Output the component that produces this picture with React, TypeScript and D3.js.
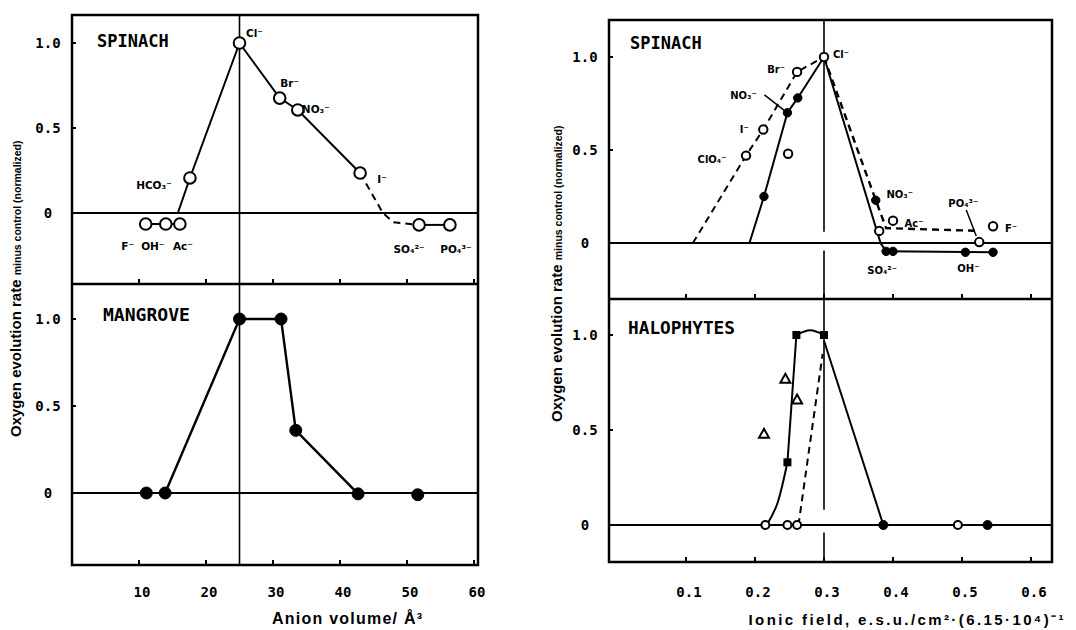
import React from 'react';
import * as d3 from 'd3';

// ---------- axis ticks ----------
const volTicks = [10, 20, 30, 40, 50, 60];
const fieldTicks = [0.1, 0.2, 0.3, 0.4, 0.5, 0.6];
const yTickVals = [0, 0.5, 1.0];
const yTickText = ["0", "0.5", "1.0"];

// ---------- left top: SPINACH vs anion volume (open circles) ----------
const spVolIon = ["F⁻", "OH⁻", "Ac⁻", "HCO₃⁻", "Cl⁻", "Br⁻", "NO₃⁻", "I⁻", "SO₄²⁻", "PO₄³⁻"];
const spVolX = [11.0, 14.0, 16.1, 17.6, 25.0, 31.0, 33.7, 43.0, 51.8, 56.4];
const spVolY = [-0.065, -0.065, -0.065, 0.206, 1.0, 0.676, 0.606, 0.235, -0.07, -0.07];
const spVolSolidA: [number, number][] = [[11.0, -0.065], [16.1, -0.065]];
const spVolSolidB: [number, number][] = [[15.8, 0], [17.6, 0.206], [25.0, 1.0], [31.0, 0.676], [33.7, 0.606], [43.0, 0.235]];
const spVolDashed: [number, number][] = [[43.0, 0.235], [46.4, 0], [48.0, -0.055], [51.8, -0.07]];
const spVolSolidC: [number, number][] = [[51.8, -0.07], [56.4, -0.07]];
// label offsets (px) for the ions above
const spVolLabDx = [-18, -13, 3, -36, 15, 10, 18, 22, -10, 6];
const spVolLabDy = [23, 23, 23, 8, -9, -14, 0, 7, 25, 25];

// ---------- left bottom: MANGROVE (filled circles) ----------
const mgX = [11.1, 13.9, 25.0, 31.2, 33.4, 42.7, 51.6];
const mgY = [0, 0, 1.0, 1.0, 0.36, -0.005, -0.01];
const mgLine: [number, number][] = [[13.9, 0], [25.0, 1.0], [31.2, 1.0], [33.4, 0.36], [42.7, -0.005]];

// ---------- right top: SPINACH vs ionic field ----------
const spFOpenIon = ["ClO₄⁻", "I⁻", "Br⁻", "Cl⁻", "", "", "Ac⁻", "PO₄³⁻", "F⁻"];
const spFOpenX = [0.187, 0.212, 0.261, 0.30, 0.248, 0.38, 0.40, 0.525, 0.545];
const spFOpenY = [0.47, 0.61, 0.92, 1.0, 0.48, 0.065, 0.12, 0.005, 0.09];
const spFOpenLabDx = [-34, -19, -21, 17, 0, 0, 21, -16, 18];
const spFOpenLabDy = [4, 0, -2, -2, 0, 0, 3, -38, 3];
const spFFilledIon = ["", "NO₃⁻", "", "NO₃⁻", "SO₄²⁻", "", "OH⁻", ""];
const spFFilledX = [0.213, 0.247, 0.262, 0.375, 0.39, 0.40, 0.505, 0.545];
const spFFilledY = [0.25, 0.70, 0.78, 0.23, -0.045, -0.045, -0.05, -0.05];
const spFFilledLabDx = [0, -44, 0, 24, -4, 0, 3, 0];
const spFFilledLabDy = [0, -17, 0, -5, 20, 0, 17, 0];
const spFSolidL: [number, number][] = [[0.192, 0], [0.213, 0.25], [0.247, 0.70], [0.262, 0.78], [0.30, 1.0]];
const spFDashedL: [number, number][] = [[0.11, 0], [0.187, 0.47], [0.212, 0.61], [0.261, 0.92], [0.30, 1.0]];
const spFSolidR: [number, number][] = [[0.30, 1.0], [0.382, 0], [0.39, -0.045]];
const spFDashedR: [number, number][] = [[0.30, 1.0], [0.375, 0.23], [0.39, 0.08], [0.525, 0.065]];
const spFSolidBottom: [number, number][] = [[0.39, -0.045], [0.545, -0.05]];

// ---------- right bottom: HALOPHYTES ----------
const haSquareX = [0.247, 0.26, 0.30];
const haSquareY = [0.33, 1.0, 1.0];
const haOpenX = [0.215, 0.247, 0.261, 0.494];
const haOpenY = [0, 0, 0, 0];
const haFilledX = [0.386, 0.537];
const haFilledY = [0, 0];
const haTriX = [0.244, 0.261, 0.213];
const haTriY = [0.77, 0.66, 0.48];
const haCurveLow: [number, number][] = [[0.217, 0], [0.233, 0.12], [0.247, 0.33]];
const haRise: [number, number][] = [[0.247, 0.33], [0.26, 1.0]];
const haArch: [number, number][] = [[0.26, 1.0], [0.28, 1.025], [0.30, 1.0]];
const haFall: [number, number][] = [[0.30, 0.97], [0.386, 0]];
const haDashed: [number, number][] = [[0.263, 0], [0.298, 0.9]];

const mono = "'DejaVu Sans Mono', monospace";
const sans = "'Liberation Sans', Arial, sans-serif";
const labFont = "'DejaVu Sans', sans-serif";

export default function App() {
  // scales (pixel frames)
  const xVol = d3.scaleLinear().domain([0, 60]).range([72, 474]);
  const xField = d3.scaleLinear().domain([0, 0.6]).range([617, 1031]);
  const yLT = d3.scaleLinear().domain([0, 1]).range([213, 43]);
  const yLB = d3.scaleLinear().domain([0, 1]).range([493, 319]);
  const yRT = d3.scaleLinear().domain([0, 1]).range([243, 57]);
  const yRB = d3.scaleLinear().domain([0, 1]).range([525, 335]);

  const lineOf = (xs: d3.ScaleLinear<number, number>, ys: d3.ScaleLinear<number, number>, curve?: d3.CurveFactory) => {
    const l = d3.line<[number, number]>().x(d => xs(d[0])).y(d => ys(d[1]));
    if (curve) l.curve(curve);
    return l;
  };

  const lLT = lineOf(xVol, yLT);
  const lLB = lineOf(xVol, yLB);
  const lRT = lineOf(xField, yRT);
  const lRB = lineOf(xField, yRB);
  const lRBc = lineOf(xField, yRB, d3.curveNatural);

  const dash = "7,5";
  const lw = 2;

  // frame geometry
  const L = { x0: 72, x1: 478, top: 15, mid: 284, bot: 565 };
  const R = { x0: 609, x1: 1052, top: 20, mid: 299, bot: 562 };

  const frame = (f: typeof L) => (
    <g fill="none" stroke="#000" strokeWidth={2.5}>
      <rect x={f.x0} y={f.top} width={f.x1 - f.x0} height={f.bot - f.top} />
      <line x1={f.x0} x2={f.x1} y1={f.mid} y2={f.mid} />
    </g>
  );

  const xTickMarks = (xs: d3.ScaleLinear<number, number>, ticks: number[], ys: number[]) => (
    <g stroke="#000" strokeWidth={2}>
      {ys.map((yy, j) => ticks.map((t, i) => (
        <line key={j + '-' + i} x1={xs(t)} x2={xs(t)} y1={yy} y2={yy - 5} />
      )))}
    </g>
  );

  const yAxis = (ys: d3.ScaleLinear<number, number>, x0: number, labelX: number) => (
    <g>
      {yTickVals.map((v, i) => (
        <g key={i}>
          <line x1={x0} x2={x0 + 4} y1={ys(v)} y2={ys(v)} stroke="#000" strokeWidth={2} />
          <text x={labelX} y={ys(v) + 5} textAnchor="middle" fontFamily={mono} fontWeight="bold" fontSize={14}>{yTickText[i]}</text>
        </g>
      ))}
    </g>
  );

  const openCircles = (xs: number[], ysv: number[], sx: any, sy: any, r: number) =>
    xs.map((v, i) => (
      <circle key={'o' + i} cx={sx(v)} cy={sy(ysv[i])} r={r} fill="#fff" stroke="#000" strokeWidth={2} />
    ));
  const filledCircles = (xs: number[], ysv: number[], sx: any, sy: any, r: number) =>
    xs.map((v, i) => (
      <circle key={'f' + i} cx={sx(v)} cy={sy(ysv[i])} r={r} fill="#000" stroke="#000" strokeWidth={1} />
    ));
  const labels = (ions: string[], xs: number[], ysv: number[], dx: number[], dy: number[], sx: any, sy: any, fs: number) =>
    ions.map((t, i) => t ? (
      <text key={'t' + i} x={sx(xs[i]) + dx[i]} y={sy(ysv[i]) + dy[i] + 3} textAnchor="middle" fontFamily={labFont} fontWeight="bold" fontSize={fs}>{t}</text>
    ) : null);

  return (
    <svg width={1076} height={630} style={{ position: 'absolute', left: 0, top: 0, background: '#fff' }}>
      <rect width={1076} height={630} fill="#fff" />

      {/* ================= LEFT FIGURE ================= */}
      {frame(L)}
      {xTickMarks(xVol, volTicks, [L.mid, L.bot])}
      {yAxis(yLT, L.x0, 48)}
      {yAxis(yLB, L.x0, 48)}
      {/* zero lines and vertical reference */}
      <line x1={L.x0} x2={L.x1} y1={yLT(0)} y2={yLT(0)} stroke="#000" strokeWidth={lw} />
      <line x1={L.x0} x2={L.x1} y1={yLB(0)} y2={yLB(0.0)} stroke="#000" strokeWidth={lw} />
      <line x1={xVol(25)} x2={xVol(25)} y1={L.top} y2={L.bot} stroke="#000" strokeWidth={1.6} />

      <g fill="none" stroke="#000" strokeWidth={lw}>
        <path d={lLT(spVolSolidA)!} />
        <path d={lLT(spVolSolidB)!} />
        <path d={lLT(spVolDashed)!} strokeDasharray={dash} />
        <path d={lLT(spVolSolidC)!} />
        <path d={lLB(mgLine)!} strokeWidth={2.4} />
      </g>
      {openCircles(spVolX, spVolY, xVol, yLT, 5.8)}
      {labels(spVolIon, spVolX, spVolY, spVolLabDx, spVolLabDy, xVol, yLT, 10.5)}
      {filledCircles(mgX, mgY, xVol, yLB, 6)}

      <text x={97} y={47} fontFamily={mono} fontWeight="bold" fontSize={17}>SPINACH</text>
      <text x={103} y={321} fontFamily={mono} fontWeight="bold" fontSize={17} textLength={87} lengthAdjust="spacingAndGlyphs">MANGROVE</text>

      {volTicks.map((t, i) => (
        <text key={'vx' + i} x={xVol(t) + 3} y={597} textAnchor="middle" fontFamily={mono} fontWeight="bold" fontSize={14}>{t}</text>
      ))}
      <text x={347} y={624} textAnchor="middle" fontFamily={sans} fontWeight="bold" fontSize={16} textLength={150} lengthAdjust="spacing">Anion volume/ Å³</text>
      <text transform="translate(21,437) rotate(-90)" fontFamily={sans} fontWeight="bold">
        <tspan fontSize={15}>Oxygen evolution rate </tspan>
        <tspan fontSize={10.5}>minus control (normalized)</tspan>
      </text>

      {/* ================= RIGHT FIGURE ================= */}
      {frame(R)}
      {xTickMarks(xField, fieldTicks, [R.mid, R.bot])}
      {yAxis(yRT, R.x0, 585)}
      {yAxis(yRB, R.x0, 585)}
      <line x1={R.x0} x2={R.x1} y1={yRT(0)} y2={yRT(0)} stroke="#000" strokeWidth={lw} />
      <line x1={R.x0} x2={R.x1} y1={yRB(0)} y2={yRB(0)} stroke="#000" strokeWidth={lw} />
      <g stroke="#000" strokeWidth={1.6}>
        <line x1={xField(0.3)} x2={xField(0.3)} y1={R.top} y2={yRT(0.06)} />
        <line x1={xField(0.3)} x2={xField(0.3)} y1={yRT(-0.04)} y2={R.mid} />
        <line x1={xField(0.3)} x2={xField(0.3)} y1={R.mid} y2={yRB(0.08)} />
        <line x1={xField(0.3)} x2={xField(0.3)} y1={yRB(-0.04)} y2={R.bot} />
      </g>

      <g fill="none" stroke="#000" strokeWidth={lw}>
        <path d={lRT(spFSolidL)!} />
        <path d={lRT(spFDashedL)!} strokeDasharray={dash} />
        <path d={lRT(spFSolidR)!} />
        <path d={lRT(spFDashedR)!} strokeDasharray={dash} strokeWidth={2.4} />
        <path d={lRT(spFSolidBottom)!} />
        {/* leader lines from labels */}
        <line x1={xField(0.247) - 23} y1={yRT(0.70) - 18} x2={xField(0.247)} y2={yRT(0.70)} strokeWidth={1.5} />
        <line x1={xField(0.525) - 13} y1={yRT(0.005) - 32} x2={xField(0.525) - 3} y2={yRT(0.005) - 6} strokeWidth={1.5} />

        <path d={lRBc(haCurveLow)!} />
        <path d={lRB(haRise)!} />
        <path d={lRBc(haArch)!} />
        <path d={lRB(haFall)!} />
        <path d={lRB(haDashed)!} strokeDasharray={dash} />
      </g>
      {filledCircles(spFFilledX, spFFilledY, xField, yRT, 4.2)}
      {openCircles(spFOpenX, spFOpenY, xField, yRT, 4.2)}
      {labels(spFOpenIon, spFOpenX, spFOpenY, spFOpenLabDx, spFOpenLabDy, xField, yRT, 10)}
      {labels(spFFilledIon, spFFilledX, spFFilledY, spFFilledLabDx, spFFilledLabDy, xField, yRT, 10)}

      {haSquareX.map((v, i) => (
        <rect key={'sq' + i} x={xField(v) - 4} y={yRB(haSquareY[i]) - 4} width={8} height={8} fill="#000" />
      ))}
      {openCircles(haOpenX, haOpenY, xField, yRB, 4)}
      {filledCircles(haFilledX, haFilledY, xField, yRB, 4.5)}
      {haTriX.map((v, i) => {
        const cx = xField(v), cy = yRB(haTriY[i]);
        return <path key={'tr' + i} d={`M${cx},${cy - 5}L${cx + 5},${cy + 4}L${cx - 5},${cy + 4}Z`} fill="#fff" stroke="#000" strokeWidth={2} />;
      })}

      <text x={630} y={49} fontFamily={mono} fontWeight="bold" fontSize={17}>SPINACH</text>
      <text x={628} y={334} fontFamily={mono} fontWeight="bold" fontSize={17} textLength={107} lengthAdjust="spacingAndGlyphs">HALOPHYTES</text>

      {fieldTicks.map((t, i) => (
        <text key={'fx' + i} x={xField(t) + 3} y={597} textAnchor="middle" fontFamily={mono} fontWeight="bold" fontSize={14}>{t.toFixed(1)}</text>
      ))}
      <text x={906} y={625} textAnchor="middle" fontFamily={sans} fontWeight="bold" fontSize={15} textLength={315} lengthAdjust="spacing">Ionic field, e.s.u./cm²·(6.15·10⁴)⁻¹</text>
      <text transform="translate(562,422) rotate(-90)" fontFamily={sans} fontWeight="bold">
        <tspan fontSize={15}>Oxygen evolution rate </tspan>
        <tspan fontSize={10.5}>minus control (normalized)</tspan>
      </text>
    </svg>
  );
}
